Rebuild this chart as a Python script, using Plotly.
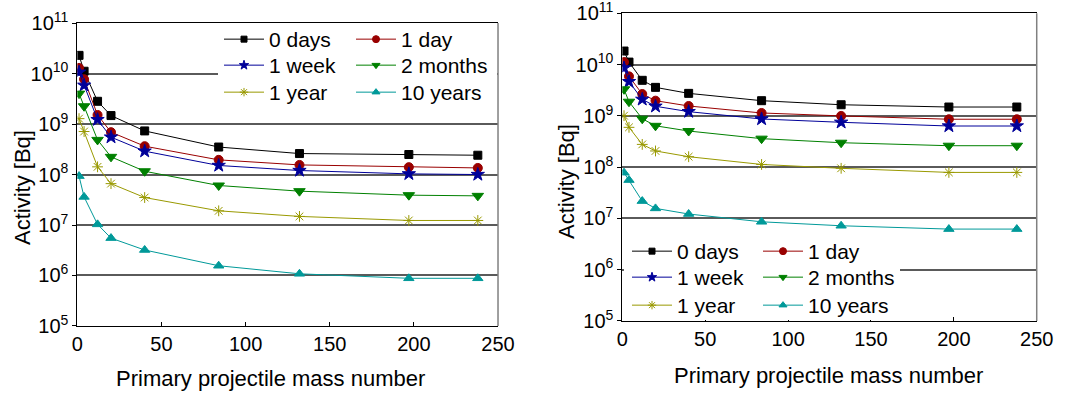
import plotly.graph_objects as go

# Primary projectile mass numbers (p, He, C, Ne, Ar, Kr, Xe, Au, U)
mass_number = [1, 4, 12, 20, 40, 84, 132, 197, 238]

series_names = ["0 days", "1 day", "1 week", "2 months", "1 year", "10 years"]

# Activity [Bq] vs. projectile mass, left panel
left_0d = [2.29e10, 1.11e10, 2.82e9, 1.47e9, 7.3e8, 3.5e8, 2.6e8, 2.49e8, 2.41e8]
left_1d = [1.29e10, 7.7e9, 1.51e9, 6.9e8, 3.64e8, 1.95e8, 1.55e8, 1.40e8, 1.35e8]
left_1w = [1.06e10, 5.85e9, 1.22e9, 5.5e8, 2.9e8, 1.51e8, 1.2e8, 1.03e8, 1.0e8]
left_2m = [4.0e9, 2.25e9, 4.85e8, 2.24e8, 1.16e8, 6.06e7, 4.68e7, 3.9e7, 3.78e7]
left_1y = [1.28e9, 7.1e8, 1.42e8, 6.6e7, 3.5e7, 1.91e7, 1.48e7, 1.23e7, 1.23e7]
left_10y = [9.3e7, 3.6e7, 1.03e7, 5.5e6, 3.2e6, 1.56e6, 1.08e6, 8.8e5, 8.8e5]

# Activity [Bq] vs. projectile mass, right panel
right_0d = [1.84e10, 1.12e10, 4.94e9, 3.6e9, 2.75e9, 1.98e9, 1.65e9, 1.49e9, 1.49e9]
right_1d = [1.12e10, 5.9e9, 2.67e9, 1.98e9, 1.56e9, 1.14e9, 1.0e9, 8.6e8, 8.6e8]
right_1w = [8.6e9, 4.65e9, 2.1e9, 1.54e9, 1.21e9, 8.7e8, 7.5e8, 6.35e8, 6.35e8]
right_2m = [3.3e9, 1.89e9, 8.8e8, 6.4e8, 5.07e8, 3.6e8, 3.0e8, 2.62e8, 2.62e8]
right_1y = [1.01e9, 5.98e8, 2.78e8, 2.07e8, 1.6e8, 1.13e8, 9.5e7, 7.9e7, 7.9e7]
right_10y = [7.8e7, 5.6e7, 2.18e7, 1.57e7, 1.22e7, 8.6e6, 7.2e6, 6.2e6, 6.2e6]

y_tick_vals = [1e5, 1e6, 1e7, 1e8, 1e9, 1e10, 1e11]
y_tick_text = ["10<sup>5</sup>", "10<sup>6</sup>", "10<sup>7</sup>", "10<sup>8</sup>",
               "10<sup>9</sup>", "10<sup>10</sup>", "10<sup>11</sup>"]
x_tick_vals = [0, 50, 100, 150, 200, 250]

colors = ["#000000", "#990000", "#000099", "#008000", "#999900", "#009999"]
symbols = ["square", "circle", "star", "triangle-down", "asterisk-open", "triangle-up"]
sizes = [8, 9, 10, 10, 9, 9]
legend_sizes = [6, 7, 7, 7, 7, 7]

FONT = "Arial, 'Liberation Sans', sans-serif"
W, H = 1085, 394
ITEM_W = 40  # legend symbol width

# Legend entry text anchors (px): column left edges and row centres per panel
left_cols, left_rows = [270, 402], [40, 66, 93]
right_cols, right_rows = [678, 809], [252, 278, 306]

fig = go.Figure()

panels = [
    ("x", "y", [left_0d, left_1d, left_1w, left_2m, left_1y, left_10y], left_cols, left_rows, 0),
    ("x2", "y2", [right_0d, right_1d, right_1w, right_2m, right_1y, right_10y], right_cols, right_rows, 6),
]

legend_layouts = {}
for xa, ya, data, cols, rows, offset in panels:
    for i, (name, vals) in enumerate(zip(series_names, data)):
        idx = offset + i + 1
        leg_id = "legend" if idx == 1 else f"legend{idx}"
        line = dict(color=colors[i], width=1)
        fig.add_trace(go.Scatter(
            x=mass_number, y=vals, name=name, mode="lines+markers",
            xaxis=xa, yaxis=ya, showlegend=False, line=line,
            marker=dict(symbol=symbols[i], size=sizes[i], color=colors[i],
                        line=dict(color=colors[i], width=1)),
        ))
        # legend key with a smaller marker
        fig.add_trace(go.Scatter(
            x=[None], y=[None], name=name, mode="lines+markers",
            xaxis=xa, yaxis=ya, legend=leg_id, showlegend=True, line=line,
            marker=dict(symbol=symbols[i], size=legend_sizes[i], color=colors[i],
                        line=dict(color=colors[i], width=1)),
        ))
        col, row = cols[i % 2], rows[i // 2]
        legend_layouts[leg_id] = dict(
            bgcolor="rgba(255,255,255,0)", borderwidth=0, orientation="v",
            font=dict(family=FONT, size=21, color="black"), itemwidth=ITEM_W,
            xanchor="left", yanchor="top",
            x=(col - ITEM_W - 11) / W, y=1 - (row - 21) / H,
        )

axis_font = dict(family=FONT, size=20, color="black")


def xaxis_style(domain, anchor):
    return dict(domain=domain, anchor=anchor, range=[0, 250], tickvals=x_tick_vals,
                ticks="inside", ticklen=4, tickcolor="black", showline=True,
                linecolor="black", linewidth=1, mirror=True, showgrid=False,
                zeroline=False, tickfont=axis_font, ticklabeloverflow="allow")


def yaxis_style(domain, anchor):
    return dict(domain=domain, anchor=anchor, type="log", range=[5, 11.0005],
                tickvals=y_tick_vals, ticktext=y_tick_text, ticks="outside",
                ticklen=4, tickcolor="black", showline=True, linecolor="black",
                linewidth=1, showgrid=True, gridcolor="#5a5a5a", gridwidth=1.5,
                zeroline=False, tickfont=axis_font, ticklabeloverflow="allow")


fig.update_layout(
    width=W, height=H,
    margin=dict(l=0, r=0, t=0, b=0, autoexpand=False),
    paper_bgcolor="white", plot_bgcolor="white",
    font=dict(family=FONT, size=20, color="black"),
    xaxis=xaxis_style([0.0713, 0.459], "y"),
    yaxis=yaxis_style([0.1726, 0.9416], "x"),
    xaxis2=xaxis_style([0.5736, 0.9555], "y2"),
    yaxis2=yaxis_style([0.1853, 0.9662], "x2"),
    showlegend=True,
    **legend_layouts,
)

# white backing behind each legend block so the grid stays hidden there
for x0, x1, y0, y1 in [(218, 497, 26, 106), (624, 900, 238, 320)]:
    fig.add_shape(type="rect", xref="paper", yref="paper",
                  x0=x0 / W, x1=x1 / W, y0=1 - y1 / H, y1=1 - y0 / H,
                  fillcolor="white", line=dict(width=0), layer="above")

# right-hand frame edges in a lighter grey
for xr, yr in (("x domain", "y domain"), ("x2 domain", "y2 domain")):
    fig.add_shape(type="line", xref=xr, yref=yr, x0=1, x1=1, y0=0, y1=1,
                  line=dict(color="#808080", width=1.5), layer="above")

title_font = dict(family=FONT, size=22, color="black")
titles = [
    ("Activity [Bq]", -90, 22, 188),
    ("Activity [Bq]", -90, 567, 182),
    ("Primary projectile mass number", 0, 270, 378),
    ("Primary projectile mass number", 0, 828, 375),
]
for text, angle, px, py in titles:
    fig.add_annotation(text=text, textangle=angle, xref="paper", yref="paper",
                       x=px / W, y=1 - py / H, xanchor="center", yanchor="middle",
                       showarrow=False, font=title_font)

fig.write_html("out.html")
